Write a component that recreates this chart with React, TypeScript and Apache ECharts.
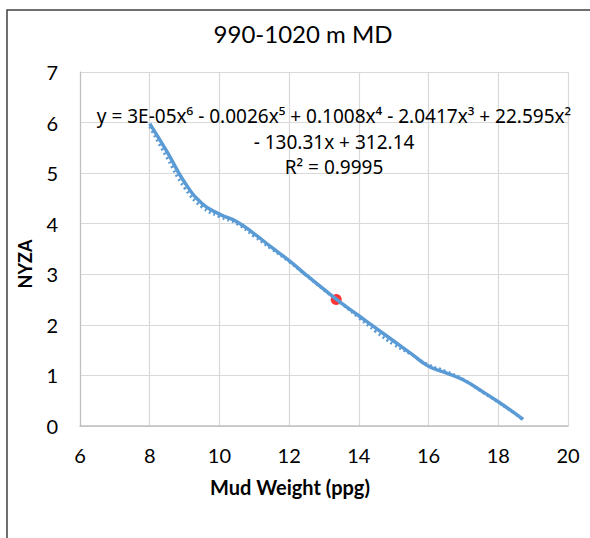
import React, { useEffect, useRef } from "react";
import * as echarts from "echarts";

const TITLE = "990-1020 m MD";
const X_NAME = "Mud Weight (ppg)";
const Y_NAME = "NYZA";
const EQUATION_LINES = [
  "y = 3E-05x⁶ - 0.0026x⁵ + 0.1008x⁴ - 2.0417x³ + 22.595x²",
  "- 130.31x + 312.14",
  "R² = 0.9995",
];

const mudWeight = [8.0, 8.5, 9.0, 9.5, 10.0, 10.5, 11.0, 11.5, 12.0, 12.5, 13.0, 13.5, 14.0, 14.5, 15.0, 15.5, 16.0, 16.5, 17.0, 17.5, 18.0, 18.5, 18.71];
const nyza = [5.98, 5.42, 4.82, 4.40, 4.19, 4.04, 3.80, 3.53, 3.27, 2.98, 2.70, 2.43, 2.18, 1.93, 1.68, 1.43, 1.18, 1.05, 0.91, 0.70, 0.48, 0.24, 0.13];
const trendNyza = [5.92, 5.30, 4.71, 4.33, 4.14, 4.00, 3.75, 3.50, 3.25, 2.97, 2.69, 2.42, 2.14, 1.86, 1.61, 1.42, 1.21, 1.08, 0.92, 0.69, 0.47, 0.23, 0.12];
const highlightPoint = [13.35, 2.5];

const BLUE = "#5B9BD5";
const FONT = "Lato, 'Noto Sans', sans-serif";
const EQ_FONT = "'Noto Sans', 'DejaVu Sans', sans-serif";

export default function App() {
  const ref = useRef<HTMLDivElement>(null);
  useEffect(() => {
    if (!ref.current) return;
    const chart = echarts.init(ref.current, null, { renderer: "svg" });
    const lineData = mudWeight.map((x, i) => [x, nyza[i]]);
    const trendData = mudWeight.map((x, i) => [x, trendNyza[i]]);
    chart.setOption({
      animation: false,
      backgroundColor: "#ffffff",
      grid: { left: 80, right: 22, top: 72, bottom: 112 },
      xAxis: {
        type: "value",
        min: 6,
        max: 20,
        interval: 2,
        axisLine: { show: true, lineStyle: { color: "#BFBFBF", width: 1.5 } },
        axisTick: { show: false },
        axisLabel: { color: "#000", fontSize: 20, fontFamily: FONT, margin: 19 },
        splitLine: { show: true, lineStyle: { color: "#D9D9D9", width: 1.2 } },
      },
      yAxis: {
        type: "value",
        min: 0,
        max: 7,
        interval: 1,
        axisLine: { show: true, lineStyle: { color: "#BFBFBF", width: 1.2 } },
        axisTick: { show: false },
        axisLabel: { color: "#000", fontSize: 20, fontFamily: FONT, margin: 22 },
        splitLine: { show: true, lineStyle: { color: "#D9D9D9", width: 1.2 } },
      },
      series: [
        {
          type: "scatter",
          data: [highlightPoint],
          symbol: "circle",
          symbolSize: 11,
          itemStyle: { color: "#FF0000" },
          z: 1,
        },
        {
          type: "line",
          data: trendData,
          smooth: 0.5,
          showSymbol: false,
          lineStyle: { color: BLUE, width: 3, type: [2, 3] },
          z: 2,
        },
        {
          type: "line",
          data: lineData,
          smooth: 0.5,
          showSymbol: false,
          lineStyle: { color: BLUE, width: 3.5 },
          z: 3,
        },
      ],
      graphic: [
        {
          type: "rect",
          shape: { x: 7, y: 10, width: 700, height: 700 },
          style: { fill: "none", stroke: "#404040", lineWidth: 1.5 },
          silent: true,
        },
        {
          type: "text",
          x: 303,
          y: 33,
          style: { text: TITLE, fontSize: 24, fontFamily: FONT, fill: "#000", textAlign: "center", textVerticalAlign: "middle" },
        },
        ...EQUATION_LINES.map((t, i) => ({
          type: "text",
          x: 334,
          y: 116 + i * 25.5,
          z: 10,
          style: { text: t, fontSize: 19, fontFamily: EQ_FONT, fill: "#000", textAlign: "center", textVerticalAlign: "middle" },
        })),
        {
          type: "text",
          x: 290,
          y: 487,
          style: { text: X_NAME, fontSize: 20, fontWeight: "bold", fontFamily: FONT, fill: "#000", textAlign: "center", textVerticalAlign: "middle" },
        },
        {
          type: "text",
          x: 25,
          y: 264,
          rotation: Math.PI / 2,
          style: { text: Y_NAME, fontSize: 18, fontWeight: "bold", fontFamily: FONT, fill: "#000", textAlign: "center", textVerticalAlign: "middle" },
        },
      ],
    });
    return () => chart.dispose();
  }, []);
  return <div ref={ref} style={{ position: "absolute", left: 0, top: 0, width: 590, height: 538 }} />;
}
